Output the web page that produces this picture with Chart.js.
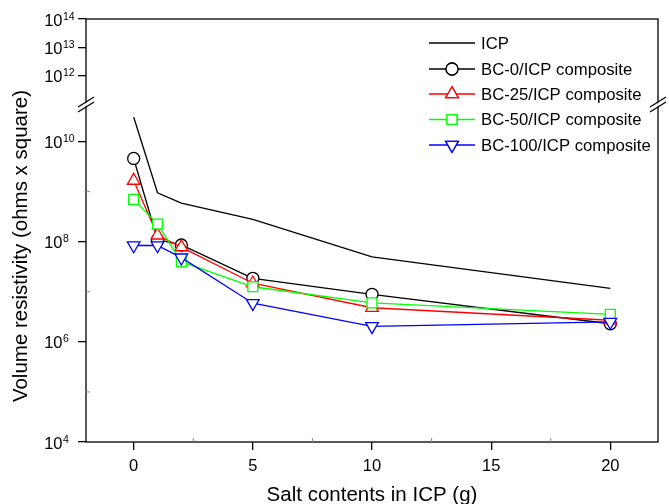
<!DOCTYPE html>
<html><head><meta charset="utf-8">
<script src="https://cdn.jsdelivr.net/npm/chart.js@4.4.1/dist/chart.umd.min.js"></script>
<style>html,body{margin:0;padding:0;background:#fff}</style>
</head><body>
<canvas id="c" width="669" height="504"></canvas>
<script>
// ---- data ----
const saltContents = [0, 1, 2, 5, 10, 20];
const icpValues   = [3.1e10, 9.5e8, 5.9e8, 2.8e8, 5.0e7, 1.17e7];
const bc0Values   = [4.6e9, 1.1e8, 8.6e7, 1.86e7, 8.9e6, 2.3e6];
const bc25Values  = [1.66e9, 1.34e8, 7.8e7, 1.48e7, 4.8e6, 2.7e6];
const bc50Values  = [7.0e8, 2.25e8, 4.0e7, 1.26e7, 6.0e6, 3.55e6];
const bc100Values = [8.4e7, 8.4e7, 4.8e7, 5.9e6, 2.04e6, 2.5e6];
const seriesLabels = ['ICP', 'BC-0/ICP composite', 'BC-25/ICP composite', 'BC-50/ICP composite', 'BC-100/ICP composite'];
const xTickValues = [0, 5, 10, 15, 20];
const xMinorTicks = [2.5, 7.5, 12.5, 17.5];
const yTicksLower = [1e4, 1e6, 1e8, 1e10];
const yMinorLower = [1e5, 1e7, 1e9];
const yTicksUpper = [1e12, 1e13, 1e14];
const xTitle = 'Salt contents in ICP (g)';
const yTitle = 'Volume resistivity (ohms x square)';

const FONT = '"Liberation Sans", Arial, sans-serif';
const pts = arr => saltContents.map((x, i) => ({x: x, y: arr[i]}));

function ds(label, values, color, style, radius, rotation, order) {
  return {
    label: label, data: pts(values), borderColor: color, borderWidth: 1.3,
    pointStyle: style || 'circle', pointRadius: radius || 0, pointRotation: rotation || 0,
    pointBorderColor: color, pointBackgroundColor: '#fff', pointBorderWidth: 1.3,
    fill: false, tension: 0, xAxisID: 'x', yAxisID: 'y', order: order
  };
}

const datasets = [
  ds(seriesLabels[0], icpValues, '#000000', 'circle', 0, 0, 5),
  ds(seriesLabels[1], bc0Values, '#000000', 'circle', 6, 0, 4),
  ds(seriesLabels[2], bc25Values, '#ff0000', 'triangle', 7.3, 0, 3),
  ds(seriesLabels[3], bc50Values, '#00ff00', 'rect', 7, 0, 2),
  ds(seriesLabels[4], bc100Values, '#0000ff', 'triangle', 7.3, 180, 1)
];

const tickGrid = {drawOnChartArea: false, drawTicks: true, tickLength: 8, color: '#000', lineWidth: 1.3};

const decor = {
  id: 'decor',
  afterDraw(chart) {
    const ctx = chart.ctx, ca = chart.chartArea;
    const sx = chart.scales.x, sy = chart.scales.y, sy2 = chart.scales.y2;
    ctx.save();
    // frame
    ctx.strokeStyle = '#000'; ctx.lineWidth = 1.3;
    ctx.strokeRect(ca.left, ca.top, ca.right - ca.left, ca.bottom - ca.top);
    // minor ticks (inward)
    ctx.lineWidth = 1;
    ctx.beginPath();
    xMinorTicks.forEach(v => { const px = sx.getPixelForValue(v); ctx.moveTo(px, ca.bottom); ctx.lineTo(px, ca.bottom - 4); });
    yMinorLower.forEach(v => { const py = sy.getPixelForValue(v); ctx.moveTo(ca.left, py); ctx.lineTo(ca.left + 4, py); });
    ctx.strokeStyle = '#888'; ctx.stroke();
    // axis break marks
    const by = sy.top;
    [ca.left, ca.right].forEach(bx => {
      ctx.fillStyle = '#fff';
      ctx.beginPath();
      ctx.moveTo(bx - 8, by + 5); ctx.lineTo(bx + 8, by - 5);
      ctx.lineTo(bx + 8, by - 2); ctx.lineTo(bx - 8, by + 8); ctx.closePath(); ctx.fill();
      ctx.strokeStyle = '#000'; ctx.lineWidth = 1.3;
      ctx.beginPath();
      ctx.moveTo(bx - 8, by + 4); ctx.lineTo(bx + 8, by - 6);
      ctx.moveTo(bx - 8, by + 9); ctx.lineTo(bx + 8, by - 1);
      ctx.stroke();
    });
    // y tick labels 10^n
    ctx.fillStyle = '#000';
    const yLab = (scale, v) => {
      const py = scale.getPixelForValue(v);
      ctx.font = '16.5px ' + FONT; ctx.textAlign = 'right'; ctx.textBaseline = 'alphabetic';
      ctx.fillText('10', 62.5, py + 6.5);
      ctx.font = '10.5px ' + FONT; ctx.textAlign = 'left';
      ctx.fillText(String(Math.round(Math.log10(v))), 63, py + 0.5);
    };
    yTicksLower.forEach(v => yLab(sy, v));
    yTicksUpper.forEach(v => yLab(sy2, v));
    // x tick labels
    ctx.font = '16.5px ' + FONT; ctx.textAlign = 'center'; ctx.textBaseline = 'alphabetic';
    xTickValues.forEach(v => ctx.fillText(String(v), sx.getPixelForValue(v), 471));
    // titles
    ctx.font = '20.5px ' + FONT; ctx.textBaseline = 'middle';
    ctx.fillText(xTitle, (ca.left + ca.right) / 2, 495);
    ctx.save(); ctx.translate(21, 246); ctx.rotate(-Math.PI / 2);
    ctx.fillText(yTitle, 0, 0); ctx.restore();
    // legend
    const rows = [43, 69, 94, 119.5, 145];
    chart.data.datasets.forEach((d, i) => {
      const y = rows[i];
      ctx.strokeStyle = d.borderColor; ctx.lineWidth = 1.3;
      ctx.beginPath(); ctx.moveTo(429, y); ctx.lineTo(475, y); ctx.stroke();
      if (d.pointRadius > 0) {
        ctx.fillStyle = '#fff';
        Chart.helpers.drawPoint(ctx, {pointStyle: d.pointStyle, rotation: d.pointRotation, radius: d.pointRadius, borderWidth: 1.3}, 452, y);
        ctx.fill(); ctx.stroke();
      }
      ctx.fillStyle = '#000'; ctx.font = '16.7px ' + FONT; ctx.textAlign = 'left'; ctx.textBaseline = 'middle';
      ctx.fillText(d.label, 481, y + 1);
    });
    ctx.restore();
  }
};

new Chart(document.getElementById('c'), {
  type: 'line',
  data: {datasets: datasets},
  options: {
    responsive: false, animation: false, devicePixelRatio: 1,
    layout: {padding: {top: 19, right: 11, left: 0, bottom: 0}},
    plugins: {legend: {display: false}, tooltip: {enabled: false}},
    scales: {
      x: {
        type: 'linear', position: 'bottom', min: -2, max: 22,
        afterBuildTicks: s => { s.ticks = xTickValues.map(v => ({value: v})); },
        afterFit: s => { s.height = 62; },
        ticks: {display: false}, grid: tickGrid, border: {display: false}
      },
      y: {
        type: 'logarithmic', position: 'left', stack: 'ys', stackWeight: 339,
        min: 1e4, max: Math.pow(10, 10.77),
        afterBuildTicks: s => { s.ticks = yTicksLower.map(v => ({value: v, major: true})); },
        afterFit: s => { s.width = 86; },
        ticks: {display: false}, grid: tickGrid, border: {display: false}
      },
      y2: {
        type: 'logarithmic', position: 'left', stack: 'ys', stackWeight: 84,
        min: Math.pow(10, 11.05), max: 1e14,
        afterBuildTicks: s => { s.ticks = yTicksUpper.map(v => ({value: v, major: true})); },
        afterFit: s => { s.width = 86; },
        ticks: {display: false}, grid: tickGrid, border: {display: false}
      }
    }
  },
  plugins: [decor]
});
</script>
</body></html>
